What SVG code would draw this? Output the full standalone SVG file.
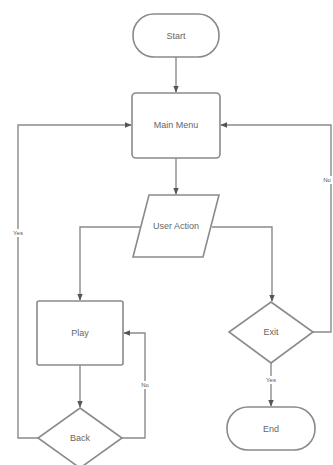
<svg xmlns="http://www.w3.org/2000/svg" width="333" height="465" viewBox="0 0 333 465">
<style>
.shape{fill:#fff;stroke:#8a8a8a;stroke-width:1.6}
.edge{fill:none;stroke:#8a8a8a;stroke-width:1.4}
.t{font-family:"Liberation Sans",Arial,sans-serif;font-size:9px;fill:#666;text-anchor:middle;dominant-baseline:central}
.lbl{font-family:"Liberation Sans",Arial,sans-serif;font-size:6px;fill:#555;text-anchor:middle;dominant-baseline:central}
</style>
<defs>
<marker id="arr" viewBox="0 0 10 10" refX="9" refY="5" markerWidth="5" markerHeight="5" orient="auto">
<path d="M0,1 L10,5 L0,9 z" fill="#555"/>
</marker>
</defs>
<rect width="333" height="465" fill="#fff"/>
<g id="connectors">
<path class="edge" d="M176,57 V92" marker-end="url(#arr)"/>
<path class="edge" d="M176,158 V194" marker-end="url(#arr)"/>
<path class="edge" d="M140,227 H80 V300" marker-end="url(#arr)"/>
<path class="edge" d="M212,227 H272 V301" marker-end="url(#arr)"/>
<path class="edge" d="M80,365 V407" marker-end="url(#arr)"/>
<path class="edge" d="M122,438 H145 V333 H124" marker-end="url(#arr)"/>
<path class="edge" d="M38,438 H18 V125 H131" marker-end="url(#arr)"/>
<path class="edge" d="M313,332 H331 V125 H221" marker-end="url(#arr)"/>
<path class="edge" d="M271,363 V406" marker-end="url(#arr)"/>
<rect x="8" y="229" width="20" height="8" fill="#fff"/>
<text class="lbl" x="18" y="233">Yes</text>
<rect x="138" y="381" width="14" height="8" fill="#fff"/>
<text class="lbl" x="145" y="385">No</text>
<rect x="262" y="376" width="18" height="8" fill="#fff"/>
<text class="lbl" x="271" y="380">Yes</text>
<rect x="321" y="176" width="12" height="8" fill="#fff"/>
<text class="lbl" x="327" y="180">No</text>
</g>
<g id="start">
<rect class="shape" x="133" y="14" width="86" height="43" rx="21"/>
<text class="t" x="176" y="35.5">Start</text>
</g>
<g id="main-menu">
<rect class="shape" x="132" y="93" width="88" height="65" rx="4"/>
<text class="t" x="176" y="125">Main Menu</text>
</g>
<g id="user-action">
<path class="shape" d="M149,195 H219 L203,257 H133 Z"/>
<text class="t" x="176" y="226">User Action</text>
</g>
<g id="play">
<rect class="shape" x="37" y="301" width="86" height="64" rx="2"/>
<text class="t" x="80" y="333">Play</text>
</g>
<g id="back">
<path class="shape" d="M80,408 L122,438 L80,468 L38,438 Z"/>
<text class="t" x="80" y="438">Back</text>
</g>
<g id="exit">
<path class="shape" d="M271,302 L313,332 L271,363 L229,332 Z"/>
<text class="t" x="271" y="332">Exit</text>
</g>
<g id="end">
<rect class="shape" x="227" y="407" width="88" height="43" rx="21"/>
<text class="t" x="271" y="428.5">End</text>
</g>
</svg>
